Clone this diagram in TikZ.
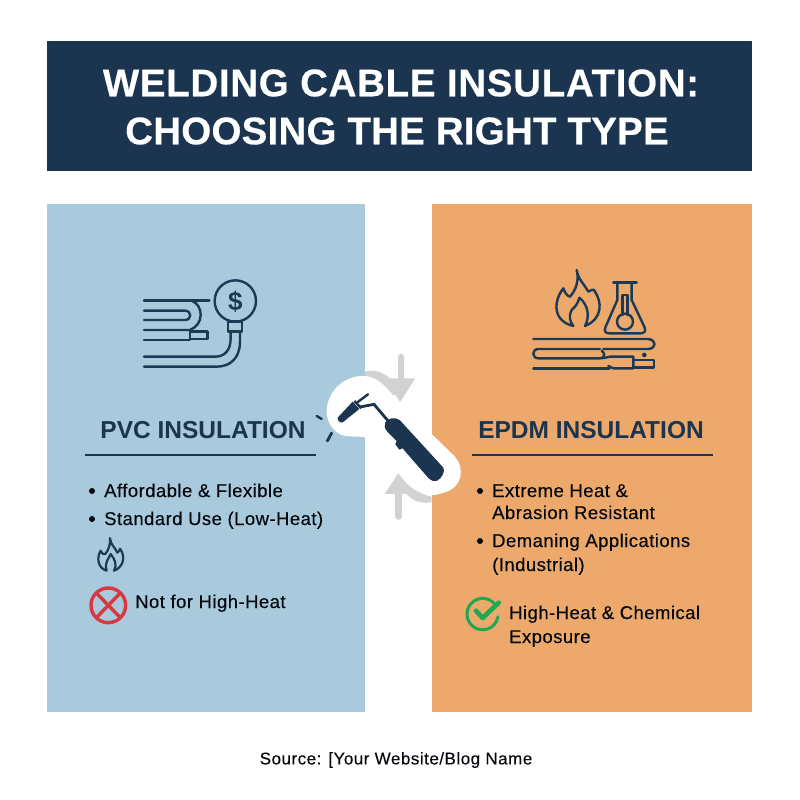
\documentclass[tikz,border=0pt]{standalone}
\usepackage{fontspec}
\setmainfont{Liberation Sans}
\newfontfamily\bodyface[FakeBold=0.25,LetterSpace=2.5]{Liberation Sans}
\newfontfamily\sourceface[FakeBold=0.1,LetterSpace=3]{Liberation Sans}
\newfontfamily\titleA[FakeBold=0.4,LetterSpace=1.8]{Liberation Sans Bold}
\newfontfamily\titleB[FakeBold=0.4,LetterSpace=0.6]{Liberation Sans Bold}
\definecolor{navy}{HTML}{1B3550}
\definecolor{ink}{HTML}{1C3A55}
\definecolor{paneblue}{HTML}{A9C9DC}
\definecolor{paneorange}{HTML}{ECA96B}
\definecolor{arrowgray}{HTML}{D2D2D2}
\definecolor{crossred}{HTML}{D8383F}
\definecolor{checkgreen}{HTML}{1FA851}
\tikzset{
  titletext/.style={text=white,inner sep=0pt},
  headtext/.style={text=navy,font=\fontsize{24.5}{24.5}\selectfont\bfseries,inner sep=0pt},
  bodytext/.style={text=black!85!navy,font=\bodyface\fontsize{18.5}{18.5}\selectfont,inner sep=0pt,anchor=base west},
  icon/.style={draw=ink,line width=2.4pt,line cap=round,line join=round,fill=none},
  zoomed/.style={x=0.3333pt,y=-0.3333pt},
  dotbullet/.style={circle,fill=black!85!navy,inner sep=0pt,minimum size=6pt},
}
\begin{document}
\begin{tikzpicture}[x=1pt,y=-1pt]
\useasboundingbox (0,0) rectangle (800,800);
\fill[white] (0,0) rectangle (800,800);
\fill[navy] (47,41) rectangle (752,171);
\fill[paneblue] (47,204) rectangle (365,712);
\fill[paneorange] (432,204) rectangle (752,712);
\node[titletext,font=\titleA\fontsize{38.5}{38.5}\selectfont] (title1) at (401,83) {WELDING CABLE INSULATION:};
\node[titletext,font=\titleB\fontsize{38.5}{38.5}\selectfont] (title2) at (397,131) {CHOOSING THE RIGHT TYPE};
% PVC icon
\begin{scope}[shift={(130,270)},zoomed]
\draw[icon] (42,92) -- (238,92);
\draw[icon] (42,122) -- (165,122) .. controls (186,122) and (186,150) .. (165,150) -- (42,150);
\draw[icon] (185,92) .. controls (205,100) and (212,118) .. (212,135) .. controls (212,155) and (200,172) .. (180,180) -- (42,180);
\draw[icon] (42,210) -- (180,210) -- (180,185) -- (232,185) -- (232,207) -- (180,207);
\draw[icon] (316,93) circle[radius=62];
\node[text=ink,font=\bfseries\fontsize{26}{26}\selectfont,inner sep=0pt] (dollar) at (316,96) {\$};
\draw[icon] (294,155) rectangle (336,185);
\draw[icon] (302,185) -- (302,205) .. controls (302,240) and (285,260) .. (255,260) -- (42,260);
\draw[icon] (330,185) -- (330,215) .. controls (330,265) and (300,290) .. (260,290) -- (42,290);
\end{scope}
% EPDM icon
\begin{scope}[shift={(520,260)},zoomed]
\draw[icon] (170,30) .. controls (175,60) and (195,75) .. (205,95) .. controls (215,90) and (222,85) .. (225,95) .. controls (245,125) and (250,175) .. (195,198) .. controls (210,170) and (205,135) .. (178,113) .. controls (172,135) and (165,140) .. (155,150) .. controls (145,170) and (150,185) .. (160,198) .. controls (125,190) and (105,165) .. (110,130) .. controls (113,110) and (122,95) .. (130,85) .. controls (135,100) and (142,108) .. (150,110) .. controls (168,90) and (178,60) .. (170,30) -- cycle;
\draw[icon] (280,68) -- (350,68);
\draw[icon] (292,68) -- (292,120) -- (257,200) .. controls (250,215) and (258,220) .. (268,220) -- (362,220) .. controls (372,220) and (380,215) .. (373,200) -- (335,120) -- (335,68);
\draw[icon] (307,165) -- (307,105) -- (323,105) -- (323,165);
\draw[icon] (315,185) circle[radius=24];
\draw[icon] (40,237) -- (385,237) .. controls (410,240) and (410,265) .. (385,267) -- (250,267);
\draw[icon] (240,267) -- (55,267) .. controls (35,267) and (35,295) .. (55,295) -- (240,295) .. controls (250,295) and (260,292) .. (270,290) -- (340,290) -- (340,325) -- (280,325) -- (265,318);
\draw[icon] (40,325) -- (268,325);
\draw[icon] (245,272) .. controls (255,280) and (255,288) .. (245,295);
\draw[icon] (340,300) -- (402,300) -- (402,322) -- (340,322);
\fill[ink] (373,285) circle[radius=7];
\end{scope}
% Torch and arrows
\begin{scope}[shift={(300,345)},zoomed]
\fill[arrowgray] (195,80) .. controls (240,68) and (278,95) .. (303,150) -- (270,150) .. controls (255,115) and (230,100) .. (195,100) -- cycle;
\draw[arrowgray,line width=6.5pt,line cap=round] (303,36) -- (303,110);
\fill[arrowgray] (258,100) -- (346,100) -- (300,172) -- cycle;
\fill[arrowgray] (395,472) .. controls (350,480) and (315,455) .. (295,410) -- (325,400) .. controls (345,435) and (365,450) .. (395,455) -- cycle;
\draw[arrowgray,line width=6.5pt,line cap=round] (295,440) -- (295,515);
\fill[arrowgray] (254,447) -- (342,447) -- (300,377) -- cycle;
\fill[white] (80,195) .. controls (85,130) and (140,90) .. (195,93) .. controls (240,97) and (265,135) .. (300,175) -- (465,335) .. controls (495,370) and (490,430) .. (425,445) .. controls (385,460) and (345,440) .. (320,415) -- (205,278) .. controls (170,272) and (140,278) .. (120,268) .. controls (95,255) and (78,225) .. (80,195) -- cycle;
\fill[navy] (113,218) -- (158,170) -- (178,192) -- (128,232) .. controls (120,234) and (111,226) .. (113,218) -- cycle;
\draw[navy,line width=2.4pt] (163,168) -- (184,190);
\draw[navy,line width=2.4pt,line cap=round] (172,172) -- (204,148);
\draw[navy,line width=2.8pt,line cap=round] (180,186) -- (222,178) -- (268,232);
\fill[navy] (256,232) .. controls (263,220) and (285,214) .. (300,226) -- (430,368) .. controls (436,378) and (427,400) .. (410,408) .. controls (402,410) and (395,407) .. (386,400) -- (318,322) -- (308,310) -- (298,314) -- (286,298) -- (290,288) -- (262,260) .. controls (253,250) and (252,240) .. (256,232) -- cycle;
\draw[navy,line width=2.4pt,line cap=round] (50,213) -- (65,222);
\draw[navy,line width=2.8pt,line cap=round] (95,264) -- (82,288);
\end{scope}
% Headings
\node[headtext] (pvchead) at (203,430) {PVC INSULATION};
\node[headtext] (epdmhead) at (591,430) {EPDM INSULATION};
\draw[navy,line width=1.3pt] (85,455) -- (316,455);
\draw[navy,line width=1.3pt] (472,455) -- (713,455);
% Left list
\node[dotbullet] (bl1) at (92,491) {};
\node[dotbullet] (bl2) at (92,519) {};
\node[bodytext] (lt1) at (104,497) {Affordable \& Flexible};
\node[bodytext] (lt2) at (104,525) {Standard Use (Low-Heat)};
\begin{scope}[shift={(80,530)},zoomed]
\draw[icon,line width=2.2pt] (90,24) .. controls (92,45) and (104,50) .. (112,68) .. controls (118,64) and (120,58) .. (120,56) .. controls (138,80) and (130,112) .. (102,122) .. controls (112,105) and (105,88) .. (92,72) .. controls (88,85) and (72,95) .. (80,122) .. controls (55,115) and (48,85) .. (62,62) .. controls (66,72) and (72,74) .. (76,72) .. controls (86,60) and (92,42) .. (90,24) -- cycle;
\draw[crossred,line width=3.4pt] (85,226) circle[radius=52];
\draw[crossred,line width=3.4pt] (50,190) -- (120,262);
\draw[crossred,line width=3.4pt] (120,190) -- (50,262);
\end{scope}
\node[bodytext] (lt3) at (135,608) {Not for High-Heat};
% Right list
\node[dotbullet] (br1) at (480,491) {};
\node[dotbullet] (br2) at (480,541) {};
\node[bodytext] (rt1) at (492,497) {Extreme Heat \&};
\node[bodytext] (rt2) at (492,519) {Abrasion Resistant};
\node[bodytext] (rt3) at (492,547) {Demaning Applications};
\node[bodytext] (rt4) at (492,571) {(Industrial)};
\begin{scope}[shift={(460,590)},zoomed]
\draw[checkgreen,line width=3pt,line cap=round] (104,42) arc[start angle=-40,end angle=-350,radius=47];
\draw[checkgreen,line width=4.6pt,line cap=round,line join=round] (48,62) -- (68,84) -- (116,38);
\end{scope}
\node[bodytext] (rt5) at (509,619) {High-Heat \& Chemical};
\node[bodytext] (rt6) at (509,643) {Exposure};
\node[text=black!85!navy,font=\sourceface\fontsize{17}{17}\selectfont,inner sep=0pt] (source) at (396,760) {Source: [Your Website/Blog Name};
\end{tikzpicture}
\end{document}
